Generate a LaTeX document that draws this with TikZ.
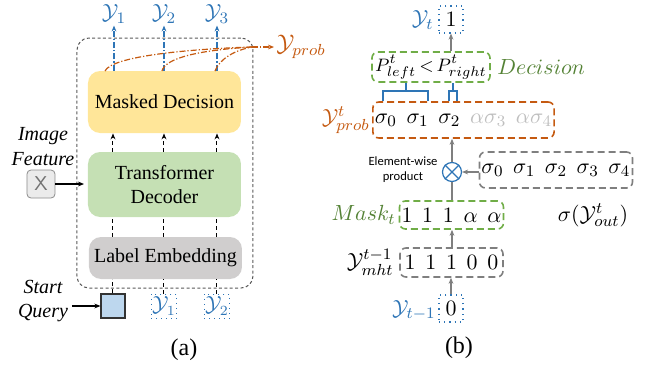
\documentclass[tikz,border=0pt]{standalone}
\usepackage{fontspec}
\setmainfont{Liberation Serif}
\newfontfamily\ewfont{Carlito}
\usetikzlibrary{arrows.meta,calc}
\definecolor{cblue}{HTML}{2E75B6}
\definecolor{corange}{HTML}{C55A11}
\definecolor{cgreentext}{HTML}{548235}
\definecolor{cgreenline}{HTML}{70AD47}
\definecolor{cyellow}{HTML}{FFE699}
\definecolor{cgreenfill}{HTML}{C5E0B4}
\definecolor{cgrayfill}{HTML}{D0CECE}
\definecolor{cqfill}{HTML}{BDD7EE}
\definecolor{cgrayline}{HTML}{7F7F7F}
\definecolor{clight}{HTML}{BFBFBF}
\tikzset{
  abox/.style={rounded corners=6pt, minimum width=76.5pt, inner sep=0pt, align=center, font=\fontsize{10}{12}\selectfont},
  colline/.style={draw=black, dash pattern=on 2pt off 1.5pt, line width=0.5pt},
  tiphead/.style={-{Stealth[length=3pt,width=2.4pt]}},
  bdash/.style={draw=cblue, dash pattern=on 3pt off 1pt on 0.6pt off 1pt, line width=0.6pt},
  odash/.style={draw=corange, dash pattern=on 3pt off 1pt on 0.6pt off 1pt, line width=0.6pt},
  qbox/.style={draw=cblue, dotted, line width=0.5pt, minimum size=12pt, inner sep=0.5pt, text=cblue, font=\fontsize{10.5}{12}\selectfont},
  ylab/.style={text=cblue, inner sep=1pt, font=\fontsize{11}{13}\selectfont},
  bdot/.style={draw=cblue, dotted, line width=0.6pt, minimum width=12pt, minimum height=13.5pt, inner sep=0.5pt, font=\fontsize{11}{13}\selectfont},
  dbox/.style={dash pattern=on 3.5pt off 2pt, line width=0.8pt, rounded corners=3pt, inner sep=1pt, font=\fontsize{11}{13}\selectfont},
  gdbox/.style={dbox, draw=cgreenline},
  odbox/.style={dbox, draw=corange},
  kdbox/.style={dbox, draw=cgrayline},
  gtip/.style={draw=cgrayline, line width=0.6pt, -{Stealth[length=3pt,width=2.4pt]}},
  gline/.style={draw=cgrayline, line width=0.6pt},
  blab/.style={inner sep=0.5pt, anchor=east, font=\fontsize{11}{13}\selectfont},
  brk/.style={draw=cblue, line width=0.8pt}
}
\begin{document}
\begin{tikzpicture}[x=0.5pt,y=-0.5pt]
\useasboundingbox (0,0) rectangle (645,370);
% ---------- (a) ----------
\node[draw=black!65, dash pattern=on 1.5pt off 1.2pt, line width=0.5pt, rounded corners=6pt, minimum width=88pt, minimum height=125pt] (cont) at (165,163) {};
\node[abox, fill=cyellow, minimum height=31pt] (md) at (164.5,102) {Masked Decision};
\node[abox, fill=cgreenfill, minimum height=32.5pt] (td) at (164.5,184.5) {Transformer\\Decoder};
\node[abox, fill=cgrayfill, minimum height=21pt] (le) at (165.5,258) {Label Embedding};
\node[draw=black!80, fill=cqfill, minimum size=12pt, inner sep=0pt, line width=0.6pt] (sq) at (113,306) {};
\node[qbox] (i1) at (164,306) {$\mathcal{Y}_1$};
\node[qbox] (i2) at (217,306) {$\mathcal{Y}_2$};
\node[ylab] (o1) at (114,14) {$\mathcal{Y}_1$};
\node[ylab] (o2) at (164,14) {$\mathcal{Y}_2$};
\node[ylab] (o3) at (217,14) {$\mathcal{Y}_3$};
% column connectors
\foreach \c/\o in {sq/o1, i1/o2, i2/o3}{
  \draw[colline] (\c.north) -- (\c.north |- le.south);
  \draw[colline] (le.north -| \c) -- (td.south -| \c);
  \draw[colline, tiphead] (td.north -| \c) -- (md.south -| \c);
  \draw[bdash, tiphead] (md.north -| \o) -- (\o.south);
}
% orange curves
\coordinate (p1) at (105,71);
\coordinate (p2) at (162,71);
\coordinate (p3) at (215,71);
\coordinate (m) at (252,47);
\node[text=corange, anchor=west, inner sep=1pt, font=\fontsize{11.5}{13}\selectfont] (yp) at (274,47) {$\mathcal{Y}_{prob}$};
\draw[odash] (p1) .. controls (112,56) and (190,49) .. (m);
\draw[odash] (p2) .. controls (165,58) and (200,50) .. (m);
\draw[odash] (p3) .. controls (220,58) and (236,50) .. (m);
\draw[odash, tiphead] (m) -- (yp.west);
% image feature
\node[align=center, font=\itshape\fontsize{10}{12.5}\selectfont] (ift) at (43,147) {Image\\Feature};
\node[draw=black!45, fill=black!8, rounded corners=2pt, minimum size=14pt, inner sep=0pt, text=black!55, font=\sffamily\fontsize{10}{10}\selectfont] (xb) at (41,184) {X};
\coordinate (xin) at (84,184);
\draw[tiphead, line width=0.6pt] (xb.east) -- (xin);
% start query
\node[align=center, font=\itshape\fontsize{10}{12}\selectfont] (sqt) at (43,301) {Start\\Query};
\coordinate (sqin) at (72,306);
\draw[tiphead, line width=0.6pt] (sqin) -- (sq.west);
\node[font=\fontsize{12}{14}\selectfont] (ca) at (184,350) {(a)};
% ---------- (b) ----------
\node[bdot] (one) at (451,19.5) {$1$};
\node[blab, text=cblue] (ytl) at (435,20) {$\mathcal{Y}_t$};
\node[gdbox, minimum width=59pt, minimum height=15pt, inner sep=0pt, font=\fontsize{9.5}{11}\selectfont] (dec) at (431,67) {$P^t_{left}\,{<}\,P^t_{right}$};
\draw[gtip] (dec.north -| one) -- (one.south);
\node[anchor=west, inner sep=0.5pt, text=cgreentext, font=\fontsize{10.5}{13}\selectfont] (decl) at (496,67) {$Decision$};
\node[odbox, minimum width=88.5pt, minimum height=18pt] (prob) at (463.5,120) {$\sigma_0\;\,\sigma_1\;\,\sigma_2\;\,{\color{clight}\alpha\sigma_3\;\,\alpha\sigma_4}$};
\node[blab, text=corange] (probl) at (371,120) {$\mathcal{Y}^t_{prob}$};
% brackets
\draw[brk] (383,101) -- (383,91) -- (428,91) -- (428,101);
\draw[brk] (406,91) -- (dec.south -| 406,0);
\draw[brk] (449,101) -- (449,91) -- (457,91) -- (457,101);
\draw[brk] (453,91) -- (dec.south -| 453,0);
% product
\node[circle, draw=cblue, minimum size=9.5pt, inner sep=0pt, line width=0.6pt] (ot) at (452,172) {};
\draw[cblue, line width=0.6pt] (ot.north east) -- (ot.south west) (ot.north west) -- (ot.south east);
\draw[gtip] (ot.north) -- (prob.south -| ot);
\node[font=\ewfont\fontsize{6.3}{7.5}\selectfont, align=center] (ew) at (403,170) {Element-wise\\product};
\node[kdbox, minimum width=74pt, minimum height=18pt] (sig) at (556,170) {$\sigma_0\;\,\sigma_1\;\,\sigma_2\;\,\sigma_3\;\,\sigma_4$};
\draw[gtip] (ot.east -| sig.west) -- (ot.east);
\node[inner sep=1pt, font=\fontsize{11}{13}\selectfont] (sigl) at (593,215) {$\sigma(\mathcal{Y}^t_{out})$};
\node[gdbox, minimum width=51.5pt, minimum height=14pt] (mask) at (451.5,215) {$1\;\,1\;\,1\;\,\alpha\;\,\alpha$};
\draw[gline] (ot.south) -- (mask.north -| ot);
\node[blab, text=cgreentext] (maskl) at (397,215) {$Mask_t$};
\node[kdbox, minimum width=51.5pt, minimum height=14.5pt] (mht) at (451.5,262.5) {$1\;\,1\;\,1\;\,0\;\,0$};
\draw[gtip] (mht.north -| ot) -- (mask.south -| ot);
\node[blab] (mhtl) at (395,262) {$\mathcal{Y}^{t-1}_{mht}$};
\node[bdot] (zero) at (451,308.5) {$0$};
\draw[gtip] (zero.north) -- (mht.south -| zero);
\node[blab, text=cblue] (zl) at (437,310) {$\mathcal{Y}_{t-1}$};
\node[font=\fontsize{12}{14}\selectfont] (cb) at (459,348) {(b)};
\end{tikzpicture}
\end{document}
